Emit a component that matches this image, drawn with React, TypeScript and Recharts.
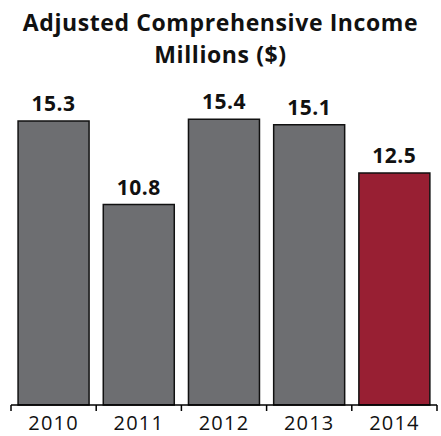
import { Bar, BarChart, Cell, LabelList, XAxis, YAxis } from 'recharts';

const years = ['2010', '2011', '2012', '2013', '2014'];
const income = [15.3, 10.8, 15.4, 15.1, 12.5];
const titleLines = ['Adjusted Comprehensive Income', 'Millions ($)'];

const W = 441;
const H = 436;
const M = { top: 108, right: 4, bottom: 0, left: 11 };
const BAND = (W - M.left - M.right) / years.length;
const FONT = '"Open Sans", "DejaVu Sans", sans-serif';

const data = years.map((year, i) => ({ year, value: income[i] }));

const YearTick = (props: any) => {
  const { x, y, payload, index } = props;
  const top = y - 8;
  return (
    <g>
      <line x1={x - BAND / 2} x2={x - BAND / 2} y1={top} y2={top + 6} stroke="#000" strokeWidth={1.5} />
      {index === years.length - 1 && (
        <line x1={x + BAND / 2} x2={x + BAND / 2} y1={top} y2={top + 6} stroke="#000" strokeWidth={1.5} />
      )}
      <text
        x={x}
        y={y}
        dy={17}
        textAnchor="middle"
        fill="#111"
        fontSize={20}
        letterSpacing={1.2}
        fontFamily={FONT}
      >
        {payload.value}
      </text>
    </g>
  );
};

export default function App() {
  return (
    <div style={{ position: 'fixed', left: 0, top: 0, width: W, height: H, background: '#fff' }}>
      <div
        style={{
          position: 'absolute',
          left: 0,
          top: 6,
          width: W,
          textAlign: 'center',
          fontFamily: FONT,
          fontWeight: 700,
          fontSize: 23,
          letterSpacing: 0.6,
          lineHeight: '32px',
          color: '#111',
        }}
      >
        {titleLines.map((t) => (
          <div key={t}>{t}</div>
        ))}
      </div>
      <BarChart width={W} height={H} data={data} margin={M} barCategoryGap="8.3%">
        <XAxis
          dataKey="year"
          height={31}
          axisLine={{ stroke: '#000', strokeWidth: 1.5 }}
          tickLine={false}
          tick={<YearTick />}
          interval={0}
        />
        <YAxis hide domain={[0, 16]} />
        <Bar dataKey="value" stroke="#111" strokeWidth={1.5} isAnimationActive={false}>
          {data.map((d, i) => (
            <Cell key={d.year} fill={i === data.length - 1 ? '#981f33' : '#6d6e71'} />
          ))}
          <LabelList
            dataKey="value"
            position="top"
            offset={10}
            fill="#111"
            fontSize={21}
            fontWeight={700}
            letterSpacing={0.5}
            fontFamily={FONT}
            formatter={(v: any) => Number(v).toFixed(1)}
          />
        </Bar>
      </BarChart>
    </div>
  );
}
